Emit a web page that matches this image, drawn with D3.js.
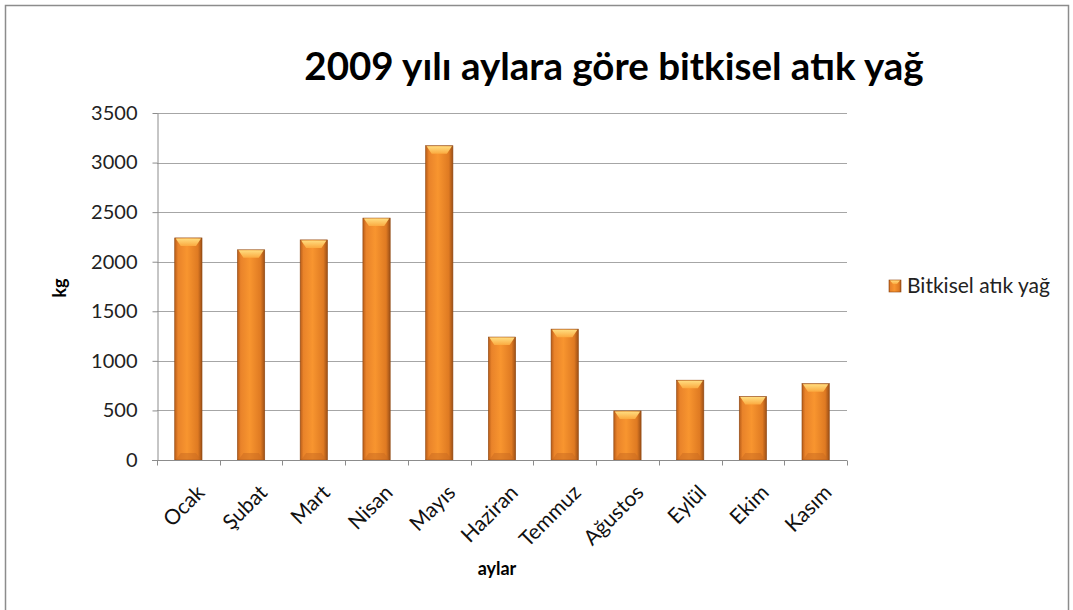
<!DOCTYPE html>
<html>
<head>
<meta charset="utf-8">
<script src="https://cdn.jsdelivr.net/npm/d3@7"></script>
<style>
  body { margin: 0; background: #fff; }
  svg { display: block; }
</style>
</head>
<body>
<div id="chart"></div>
<script>
// chart data
const months = ["Ocak", "Şubat", "Mart", "Nisan", "Mayıs", "Haziran", "Temmuz", "Ağustos", "Eylül", "Ekim", "Kasım"];
const values = [2240, 2120, 2220, 2440, 3170, 1240, 1320, 495, 805, 640, 770];
const yTicks = [0, 500, 1000, 1500, 2000, 2500, 3000, 3500];
const seriesName = "Bitkisel atık yağ";
const titleText = "2009 yılı aylara göre bitkisel atık yağ";

const W = 1073, H = 610;
const plot = { left: 157, right: 847, top: 113, bottom: 460 };
const FONT = "Lato, 'Open Sans', sans-serif";

const svg = d3.select("#chart").append("svg")
    .attr("width", W).attr("height", H);

// gradients for the bevelled bars
const defs = svg.append("defs");
const g1 = defs.append("linearGradient").attr("id", "barGrad")
    .attr("x1", "0").attr("x2", "1").attr("y1", "0").attr("y2", "0");
g1.append("stop").attr("offset", "0%").attr("stop-color", "#b85c18");
g1.append("stop").attr("offset", "12%").attr("stop-color", "#e9832a");
g1.append("stop").attr("offset", "45%").attr("stop-color", "#f8952f");
g1.append("stop").attr("offset", "85%").attr("stop-color", "#df7a22");
g1.append("stop").attr("offset", "100%").attr("stop-color", "#9c4f16");

const g2 = defs.append("linearGradient").attr("id", "capGrad")
    .attr("x1", "0").attr("x2", "0").attr("y1", "0").attr("y2", "1");
g2.append("stop").attr("offset", "0%").attr("stop-color", "#ffdd80");
g2.append("stop").attr("offset", "100%").attr("stop-color", "#fbaa40");

// outer frame
svg.append("rect").attr("x", 5.5).attr("y", 5.5).attr("width", 1063).attr("height", 610)
    .attr("fill", "#fff").attr("stroke", "#8c8c8c").attr("stroke-width", 1.5);

const x = d3.scaleBand().domain(months).range([plot.left, plot.right]).paddingInner(0.565).paddingOuter(0.2825);
const xb = d3.scaleBand().domain(months).range([plot.left, plot.right]);
const y = d3.scaleLinear().domain([0, 3500]).range([plot.bottom, plot.top]);

// gridlines
svg.append("g").selectAll("line").data(yTicks.slice(1)).join("line")
    .attr("x1", plot.left).attr("x2", plot.right)
    .attr("y1", d => Math.round(y(d)) + 0.5).attr("y2", d => Math.round(y(d)) + 0.5)
    .attr("stroke", "#a6a6a6").attr("stroke-width", 1.2);

// bars
const bars = svg.append("g").selectAll("g").data(values).join("g");
bars.append("rect")
    .attr("x", (d, i) => x(months[i])).attr("y", d => y(d))
    .attr("width", x.bandwidth()).attr("height", d => plot.bottom - y(d))
    .attr("fill", "url(#barGrad)").attr("stroke", "#8f4812").attr("stroke-width", 0.6);
bars.append("path")
    .attr("d", (d, i) => {
        const x0 = x(months[i]), w = x.bandwidth(), t = y(d), h = 8;
        return `M${x0 + 1},${t + 0.5} L${x0 + w - 1},${t + 0.5} L${x0 + w - 6},${t + h} L${x0 + 6},${t + h} Z`;
    })
    .attr("fill", "url(#capGrad)");
bars.append("path")
    .attr("d", (d, i) => {
        const x0 = x(months[i]), w = x.bandwidth(), b = plot.bottom, h = 7;
        return `M${x0 + 1},${b} L${x0 + w - 1},${b} L${x0 + w - 6},${b - h} L${x0 + 6},${b - h} Z`;
    })
    .attr("fill", "#c96a1f").attr("opacity", 0.5);

// y axis
const yAxis = svg.append("g").attr("transform", `translate(${plot.left + 0.5},0)`)
    .call(d3.axisLeft(y).tickValues(yTicks).tickFormat(d3.format("d"))
        .tickSize(5).tickPadding(15).tickSizeOuter(0));
yAxis.select(".domain").attr("stroke", "#8c8c8c");
yAxis.selectAll(".tick line").attr("stroke", "#8c8c8c");
yAxis.selectAll("text").attr("fill", "#222")
    .style("font-family", FONT).style("font-size", "20px");

// x axis
const xAxisG = svg.append("g").attr("transform", `translate(0,${plot.bottom + 0.5})`);
xAxisG.append("line").attr("x1", plot.left - 5).attr("x2", plot.right)
    .attr("stroke", "#8c8c8c");
xAxisG.selectAll(".tk").data(months.concat(["_end"])).join("line")
    .attr("x1", (d, i) => Math.round(i < months.length ? xb(d) : plot.right) + 0.5)
    .attr("x2", (d, i) => Math.round(i < months.length ? xb(d) : plot.right) + 0.5)
    .attr("y1", 0).attr("y2", 5).attr("stroke", "#8c8c8c");
xAxisG.selectAll("text").data(months).join("text")
    .attr("transform", d => `translate(${xb(d) + xb.bandwidth() / 2 + 7},23) rotate(-45)`)
    .attr("text-anchor", "end").attr("dy", "0.7em")
    .attr("fill", "#111")
    .style("font-family", FONT).style("font-size", "21px")
    .text(d => d);

// axis titles
svg.append("text").attr("x", 497).attr("y", 575).attr("text-anchor", "middle")
    .style("font-family", FONT).style("font-size", "18px").style("font-weight", "bold")
    .text("aylar");
svg.append("text").attr("transform", "translate(66,288) rotate(-90)").attr("text-anchor", "middle")
    .style("font-family", FONT).style("font-size", "18px").style("font-weight", "bold")
    .text("kg");

// title
svg.append("text").attr("x", 614).attr("y", 80).attr("text-anchor", "middle")
    .style("font-family", FONT).style("font-size", "38.5px").style("font-weight", "bold")
    .text(titleText);

// legend
const lg = svg.append("g").attr("transform", "translate(889,280)");
lg.append("rect").attr("width", 12).attr("height", 12)
    .attr("fill", "url(#barGrad)").attr("stroke", "#8f4812").attr("stroke-width", 0.6);
lg.append("path").attr("d", "M1,0.5 L11,0.5 L8,4 L4,4 Z").attr("fill", "url(#capGrad)");
lg.append("text").attr("x", 18).attr("y", 13)
    .style("font-family", FONT).style("font-size", "21px").attr("fill", "#222")
    .text(seriesName);
</script>
</body>
</html>
